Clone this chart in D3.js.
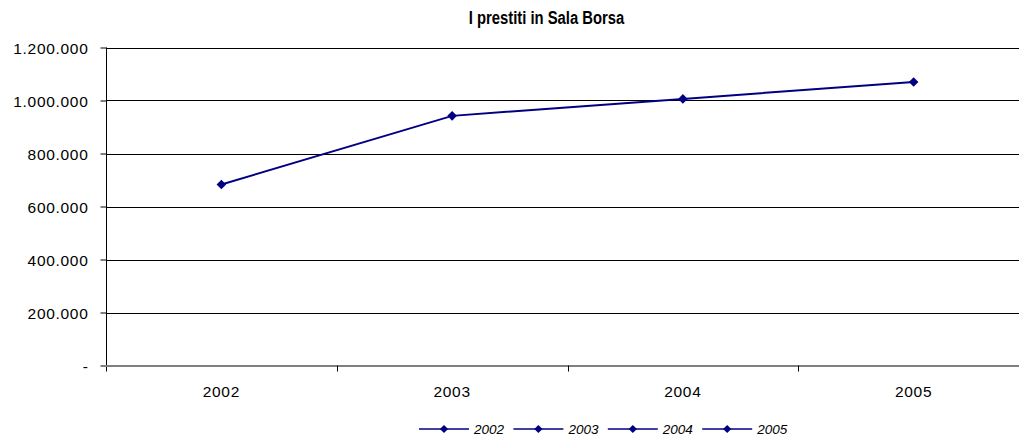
<!DOCTYPE html>
<html>
<head>
<meta charset="utf-8">
<script src="https://cdn.jsdelivr.net/npm/d3@7"></script>
<style>
  html, body { margin: 0; padding: 0; background: #fff; }
  svg { display: block; font-family: Arial, "Liberation Sans", sans-serif; }
</style>
</head>
<body>
<svg id="chart" width="1019" height="439"></svg>
<script>
// ---- data ----
const title = "I prestiti in Sala Borsa";
const categories = ["2002", "2003", "2004", "2005"];
const values = [683000, 942000, 1006000, 1070000];
const yTickValues = [0, 200000, 400000, 600000, 800000, 1000000, 1200000];
const legendLabels = ["2002", "2003", "2004", "2005"];

// ---- layout ----
const W = 1019, H = 439;
const plot = { left: 106, right: 1029, top: 47.5, bottom: 365.5 };
const lineColor = "#000080";

const svg = d3.select("#chart");
const it = d3.formatLocale({ decimal: ",", thousands: ".", grouping: [3], currency: ["€", ""] });
const fmt = v => v === 0 ? "-" : it.format(",.0f")(v);

const x = d3.scaleBand().domain(categories).range([plot.left, plot.right]);
const y = d3.scaleLinear().domain([0, 1200000]).range([plot.bottom, plot.top]);

// title
svg.append("text")
  .attr("x", 0).attr("y", 0)
  .attr("transform", "translate(546.5,24) scale(0.78,1)")
  .attr("text-anchor", "middle")
  .attr("font-weight", "bold")
  .attr("font-size", 19)
  .attr("fill", "#000")
  .text(title);

// gridlines
svg.append("g").selectAll("line")
  .data(yTickValues.filter(v => v > 0))
  .join("line")
  .attr("x1", plot.left).attr("x2", W)
  .attr("y1", d => Math.round(y(d)) + 0.5).attr("y2", d => Math.round(y(d)) + 0.5)
  .attr("stroke", "#000").attr("stroke-width", 1);

// y axis
const yAxis = d3.axisLeft(y).tickValues(yTickValues).tickFormat(fmt).tickSize(6).tickPadding(12);
const gy = svg.append("g").attr("transform", `translate(${plot.left + 0.5},0)`).call(yAxis);
gy.select(".domain").remove();
gy.selectAll(".tick line").attr("stroke", "#000");
gy.selectAll(".tick text")
  .attr("font-family", "Arial, 'Liberation Sans', sans-serif")
  .attr("font-size", 15.5)
  .attr("letter-spacing", 0.7)
  .attr("fill", "#000")
  .attr("dy", "0.36em");
svg.append("line")
  .attr("x1", plot.left + 0.5).attr("x2", plot.left + 0.5)
  .attr("y1", plot.top).attr("y2", plot.bottom + 6)
  .attr("stroke", "#000");

// x axis baseline
svg.append("line")
  .attr("x1", plot.left).attr("x2", W)
  .attr("y1", y(0) + 0.5).attr("y2", y(0) + 0.5)
  .attr("stroke", "#808080").attr("stroke-width", 2);

// x ticks at category boundaries
const bounds = categories.map(c => x(c)).concat([x(categories[categories.length - 1]) + x.bandwidth()]);
svg.append("g").selectAll("line")
  .data(bounds.slice(1))
  .join("line")
  .attr("x1", d => Math.round(d) + 0.5).attr("x2", d => Math.round(d) + 0.5)
  .attr("y1", y(0)).attr("y2", y(0) + 6)
  .attr("stroke", "#000");

// x labels
svg.append("g").selectAll("text")
  .data(categories)
  .join("text")
  .attr("x", d => x(d) + x.bandwidth() / 2)
  .attr("y", 397)
  .attr("text-anchor", "middle")
  .attr("font-size", 15.5)
  .attr("letter-spacing", 0.7)
  .attr("fill", "#000")
  .text(d => d);

// line series
const line = d3.line().x((d, i) => x(categories[i]) + x.bandwidth() / 2).y(d => y(d));
svg.append("path")
  .datum(values)
  .attr("d", line)
  .attr("fill", "none")
  .attr("stroke", lineColor)
  .attr("stroke-width", 2);

const marker = d3.symbol(d3.symbolSquare, 46);
svg.append("g").selectAll("path")
  .data(values)
  .join("path")
  .attr("d", marker)
  .attr("transform", (d, i) => `translate(${x(categories[i]) + x.bandwidth() / 2},${y(d)}) rotate(45)`)
  .attr("fill", lineColor);

// legend
const legendStart = 419, legendStep = 94.4, legendY = 429;
const lg = svg.append("g").selectAll("g")
  .data(legendLabels)
  .join("g")
  .attr("transform", (d, i) => `translate(${legendStart + i * legendStep},${legendY})`);
lg.append("line")
  .attr("x1", 0).attr("x2", 50).attr("y1", 0).attr("y2", 0)
  .attr("stroke", lineColor).attr("stroke-width", 1.5);
lg.append("path")
  .attr("d", d3.symbol(d3.symbolSquare, 34))
  .attr("transform", "translate(25,0) rotate(45)")
  .attr("fill", lineColor);
lg.append("text")
  .attr("x", 55).attr("y", 5)
  .attr("font-size", 13.5)
  .attr("font-style", "italic")
  .attr("fill", "#000")
  .text(d => d);
</script>
</body>
</html>
